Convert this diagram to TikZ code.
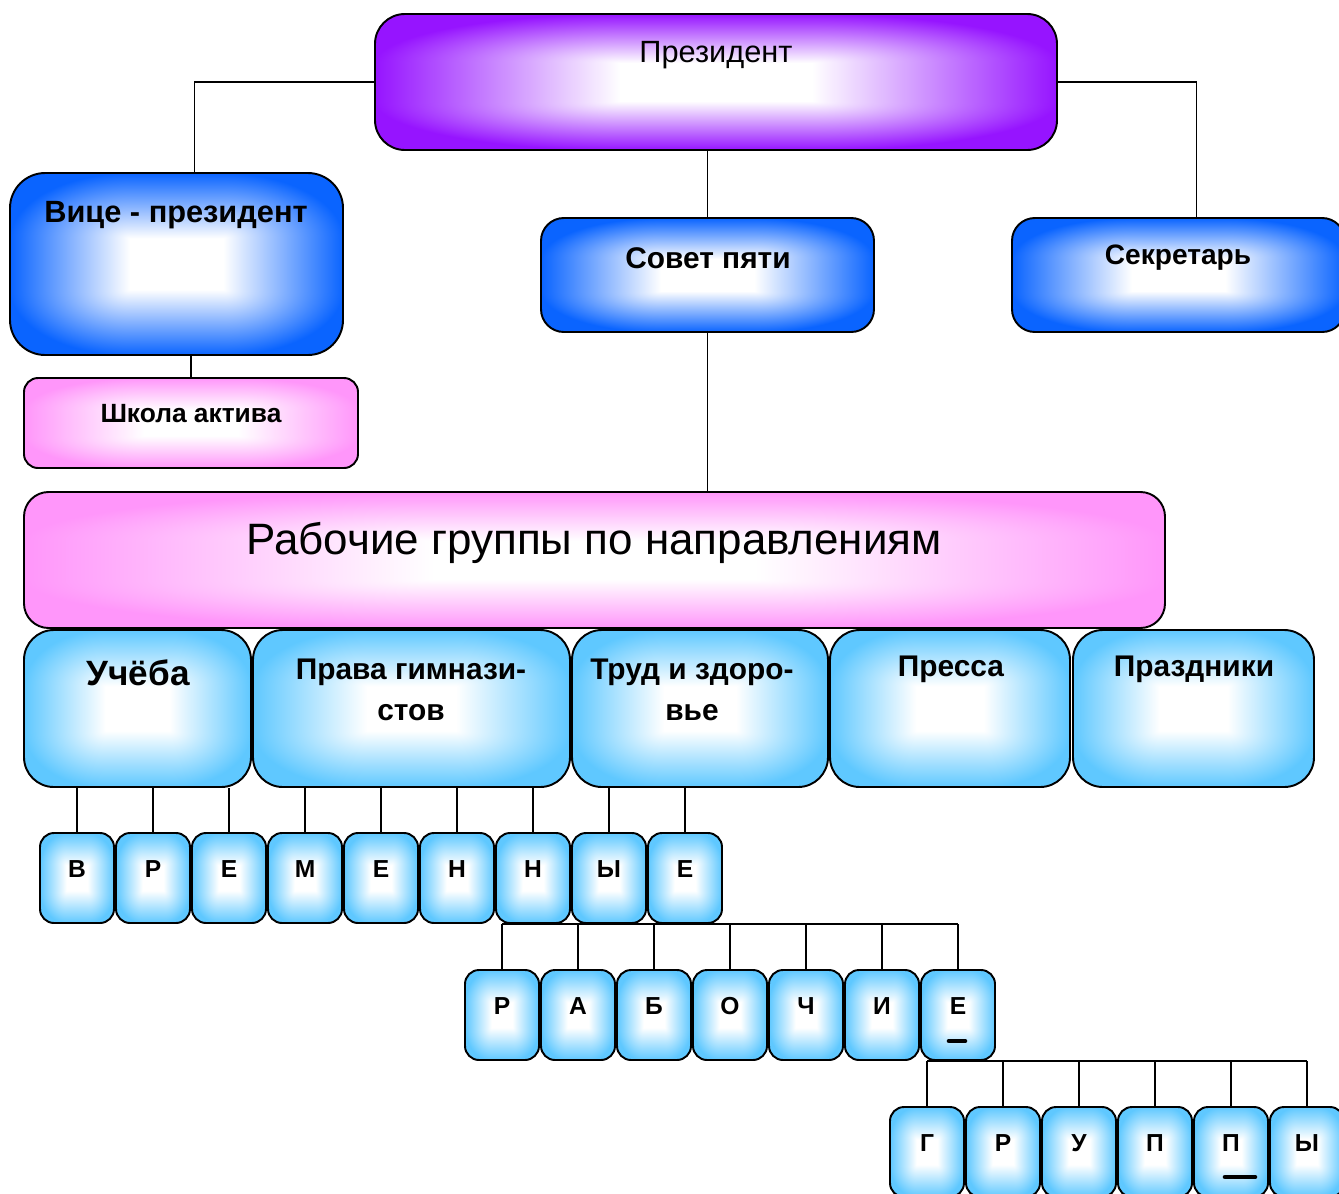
\documentclass[tikz,border=0pt]{standalone}
\usepackage{fontspec}
\setmainfont{Liberation Sans}

\definecolor{violet1}{RGB}{150,20,255}
\definecolor{blue1}{RGB}{10,100,255}
\definecolor{pink1}{RGB}{255,150,250}
\definecolor{sky1}{RGB}{95,200,255}

% white centre, colour towards the edges (soft rectangle)
\pgfdeclarefunctionalshading[glowcol]{glow}{\pgfpoint{-50bp}{-50bp}}{\pgfpoint{50bp}{50bp}}
{\pgfshadecolortorgb{glowcol}{\glowrgb}%
 \pgfmathsetmacro\glowr{1-\glowrgbred}%
 \pgfmathsetmacro\glowg{1-\glowrgbgreen}%
 \pgfmathsetmacro\glowb{1-\glowrgbblue}}
{abs 7 sub 18 div dup 0 lt {pop 0} if dup mul
 exch abs 7 sub 18 div dup 0 lt {pop 0} if dup mul add
 sqrt dup 1 gt {pop 1} if
 dup \glowr\space mul 1 exch sub exch
 dup \glowg\space mul 1 exch sub exch
 \glowb\space mul 1 exch sub}

\begin{document}
\begin{tikzpicture}[x=0.2mm, y=-0.2mm,
   box/.style={draw, line width=1.1pt, shade, shading=glow, /utils/exec={\colorlet{glowcol}{#1}}, inner sep=0pt},
   topbox/.style={box=violet1, rounded corners=17pt},
   bluebox/.style={box=blue1, rounded corners=13pt},
   pinkbox/.style={box=pink1, rounded corners=8pt},
   catbox/.style={box=sky1, rounded corners=17pt, minimum height=31.4mm},
   letter/.style={box=sky1, rounded corners=8pt, minimum width=14.8mm, minimum height=18mm,
      font=\bfseries\fontsize{14}{16}\selectfont, text height=10pt, text depth=11pt},
   lbl/.style={font=\bfseries\fontsize{17}{23}\selectfont, align=center, inner sep=0pt},
   conn/.style={line width=0.8pt}]
   \useasboundingbox (0,0) rectangle (1339,1193);

   % top level
   \node[topbox, minimum width=136.4mm, minimum height=27.2mm] (pres) at (716,82) {};
   \node[font=\fontsize{17.5}{20}\selectfont] (presT) at (716,55) {Президент};
   \node[bluebox, minimum width=66.6mm, minimum height=36.4mm, rounded corners=20pt] (vice) at (176.5,264) {};
   \node[lbl, font=\bfseries\fontsize{17.5}{20}\selectfont] (viceT) at (176,215) {Вице - президент};
   \node[pinkbox, minimum width=66.8mm, minimum height=18mm] (shkola) at (191,423) {};
   \node[lbl, font=\bfseries\fontsize{15}{17}\selectfont] (shkolaT) at (191,414) {Школа актива};
   \node[bluebox, minimum width=66.6mm, minimum height=22.8mm] (sovet) at (707.5,275) {};
   \node[lbl] (sovetT) at (708,258) {Совет пяти};
   \node[bluebox, minimum width=66.6mm, minimum height=22.8mm] (sekr) at (1178.5,275) {};
   \node[lbl, font=\bfseries\fontsize{16}{19}\selectfont] (sekrT) at (1178,258) {Секретарь};

   % working groups
   \node[pinkbox, minimum width=228.2mm, minimum height=27.2mm, rounded corners=14pt] (rab) at (594.5,560) {};
   \node[font=\fontsize{25}{29}\selectfont] (rabT) at (594,543) {Рабочие группы по направлениям};

   \node[catbox, minimum width=45.4mm] (ucheba) at (137.5,708.5) {};
   \node[lbl, font=\bfseries\fontsize{20}{22}\selectfont] (uchebaT) at (138,673) {Учёба};
   \node[catbox, minimum width=63.4mm] (prava) at (411.5,708.5) {};
   \node[lbl] (pravaT) at (411,690) {Права гимнази-\\стов};
   \node[catbox, minimum width=51.2mm] (trud) at (700,708.5) {};
   \node[lbl] (trudT) at (692,690) {Труд и здоро-\\вье};
   \node[catbox, minimum width=48mm] (pressa) at (950,708.5) {};
   \node[lbl] (pressaT) at (951,669) {Пресса};
   \node[catbox, minimum width=48.2mm] (prazd) at (1193.5,708.5) {};
   \node[lbl] (prazdT) at (1194,669) {Праздники};

   % letter rows
   \foreach \l [count=\i] in {В,Р,Е,М,Е,Н,Н,Ы,Е}
      \node[letter] (a\i) at ({77+76*(\i-1)},878) {\l};
   \foreach \l [count=\i] in {Р,А,Б,О,Ч,И,Е}
      \node[letter] (b\i) at ({502+76*(\i-1)},1015) {\l};
   \foreach \l [count=\i] in {Г,Р,У,П,П,Ы}
      \node[letter] (c\i) at ({927+76*(\i-1)},1152) {\l};

   % connectors
   \draw[conn] (pres.west) -| ([shift={(18,0)}]vice.north);
   \draw[conn] (pres.east) -| ([shift={(18,0)}]sekr.north);
   \draw[conn] (sovet.north) -- (sovet.north |- pres.south);
   \draw[conn] (sovet.south) -- (sovet.south |- rab.north);
   \draw[conn] (shkola.north) -- (shkola.north |- vice.south);

   \foreach \i/\p in {1/ucheba,2/ucheba,3/ucheba,4/prava,5/prava,6/prava,7/prava,8/trud,9/trud}
      \draw[conn] (a\i.north) -- (a\i.north |- \p.south);

   \draw[conn] (b1.north |- a9.south) -- (b7.north |- a9.south);
   \foreach \i in {1,...,7}
      \draw[conn] (b\i.north) -- (b\i.north |- a9.south);

   \draw[conn] (c1.north |- b7.south) -- (c6.north |- b7.south);
   \foreach \i in {1,...,6}
      \draw[conn] (c\i.north) -- (c\i.north |- b7.south);

   % marks under letters
   \draw[line width=2.6pt, line cap=round] ([shift={(-9,26)}]b7.center) -- ([shift={(7,26)}]b7.center);
   \draw[line width=2.6pt, line cap=round] ([shift={(-6,25)}]c5.center) -- ([shift={(24,25)}]c5.center);
\end{tikzpicture}
\end{document}
